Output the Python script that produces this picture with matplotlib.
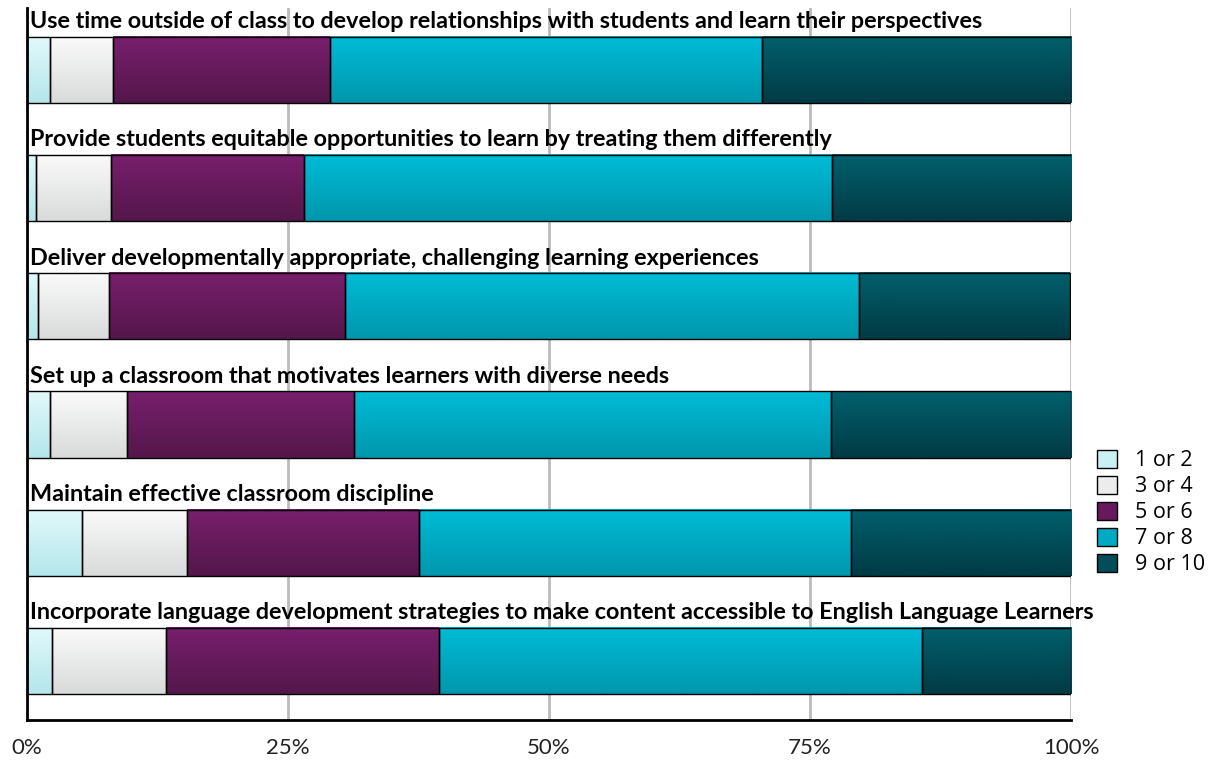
import numpy as np
import matplotlib
matplotlib.use("Agg")
import matplotlib.pyplot as plt
from matplotlib.patches import Rectangle, Patch
from matplotlib.colors import to_rgb

plt.rcParams["font.family"] = ["Lato", "DejaVu Sans"]

questions = [
    "Use time outside of class to develop relationships with students and learn their perspectives",
    "Provide students equitable opportunities to learn by treating them differently",
    "Deliver developmentally appropriate, challenging learning experiences",
    "Set up a classroom that motivates learners with diverse needs",
    "Maintain effective classroom discipline",
    "Incorporate language development strategies to make content accessible to English Language Learners",
]
levels = ["1 or 2", "3 or 4", "5 or 6", "7 or 8", "9 or 10"]

# percent of respondents per rating band (rows = questions)
r_1_2 = [2.2, 0.9, 1.1, 2.2, 5.3, 2.4]
r_3_4 = [6.0, 7.1, 6.8, 7.4, 10.0, 10.9]
r_5_6 = [20.8, 18.5, 22.6, 21.7, 22.2, 26.2]
r_7_8 = [41.4, 50.6, 49.2, 45.7, 41.4, 46.2]
r_9_10 = [29.6, 23.0, 20.2, 23.0, 21.2, 14.3]
series = [r_1_2, r_3_4, r_5_6, r_7_8, r_9_10]

# (top, bottom) gradient colours per band
grads = [
    ("#e2f9fb", "#b3e6eb"),
    ("#fafafa", "#d9dbdb"),
    ("#781f6c", "#54174b"),
    ("#00bcd6", "#0097ad"),
    ("#01606d", "#013b45"),
]
mids = ["#c9f0f3", "#ececec", "#66195d", "#00aac2", "#024d58"]

fig = plt.figure(figsize=(12.16, 7.6), dpi=100)
ax = fig.add_axes([27 / 1216, 1 - 720 / 760, 1044 / 1216, 712 / 760])

bar_h = 0.56
for i, q in enumerate(questions):
    left = 0.0
    for k, s in enumerate(series):
        w = s[i]
        top, bot = to_rgb(grads[k][0]), to_rgb(grads[k][1])
        t = np.linspace(0, 1, 64)[:, None, None]
        img = (1 - t) * np.array(top) + t * np.array(bot)
        img = np.repeat(img, 2, axis=1)
        ax.imshow(img, extent=(left, left + w, i + bar_h / 2, i - bar_h / 2),
                  origin="upper", aspect="auto", interpolation="bilinear", zorder=2)
        ax.add_patch(Rectangle((left, i - bar_h / 2), w, bar_h, fill=False,
                               edgecolor="black", linewidth=1.0, zorder=3))
        left += w
    ax.text(0.3, i - bar_h / 2 - 0.04, q, fontsize=16.8, fontweight="bold",
            va="bottom", ha="left", color="black", zorder=4)

ax.set_xlim(0, 100)
ax.set_ylim(5.5, -0.525)
ax.set_yticks([])
ax.set_xticks([0, 25, 50, 75, 100])
ax.set_xticklabels(["0%", "25%", "50%", "75%", "100%"], fontsize=16, color="#222222")
ax.tick_params(axis="x", length=0, pad=13)
ax.grid(axis="x", color="#bbbbbb", linewidth=2, zorder=0)
ax.set_axisbelow(True)
for sp in ["top", "right"]:
    ax.spines[sp].set_visible(False)
ax.spines["left"].set_linewidth(2)
ax.spines["bottom"].set_linewidth(2)

handles = [Patch(facecolor=mids[k], edgecolor="black", label=levels[k]) for k in range(5)]
fig.legend(handles=handles, loc="upper left", bbox_to_anchor=(1088 / 1216, 1 - 441 / 760),
           frameon=False, prop={"family": ["Open Sans", "DejaVu Sans"], "size": 15.5},
           handlelength=0.95, handleheight=0.95,
           labelspacing=0.2, handletextpad=0.85, borderaxespad=0)

fig.savefig("out.png", dpi=100, facecolor="white")
